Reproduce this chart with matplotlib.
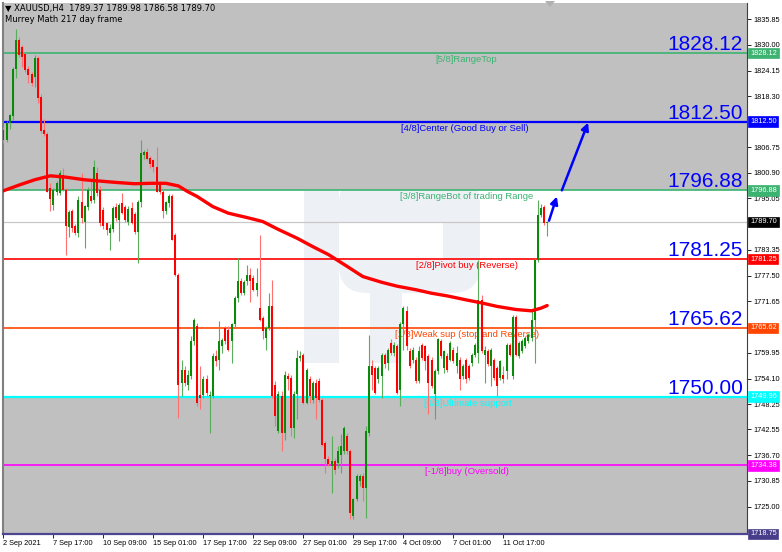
import matplotlib
matplotlib.use("Agg")
import matplotlib.pyplot as plt
import matplotlib.transforms as mtransforms
from matplotlib.patches import Rectangle, FancyBboxPatch, Polygon

plt.rcParams['font.family'] = ['Liberation Sans', 'DejaVu Sans']

W, H = 782, 552

# ---- H4 candles (bar 0 = 2 Sep 2021) ------------------------------------ #
opens = [
    1810.6, 1808.3, 1812.1, 1813.8, 1824.6, 1831.1, 1829.5, 1827.8, 1824.6, 1823.4,
    1822.7, 1826.9, 1818.2, 1810.6, 1809.6, 1797.4, 1793.6, 1796.5, 1796.2, 1800.5,
    1797.0, 1788.6, 1792.1, 1788.7, 1787.2, 1794.3, 1789.8, 1793.2, 1795.5, 1794.7,
    1800.8, 1797.0, 1792.4, 1789.4, 1787.3, 1788.0, 1793.2, 1790.2, 1794.0, 1793.0,
    1789.8, 1792.8, 1791.6, 1787.5, 1794.3, 1805.0, 1805.6, 1804.2, 1803.8, 1802.3,
    1798.7, 1796.6, 1792.1, 1794.0, 1795.5, 1786.7, 1777.7,
    1753.1, 1756.1, 1752.7, 1754.6, 1762.6, 1766.0, 1750.4, 1750.4, 1753.9, 1750.1,
    1750.1, 1759.2, 1758.4, 1761.4, 1765.6, 1765.2, 1762.6, 1766.4, 1772.4, 1776.2,
    1773.5, 1776.2, 1777.7, 1777.0, 1774.3, 1770.1, 1767.9, 1763.3, 1765.6, 1770.5,
    1752.7, 1742.1, 1750.1, 1741.7, 1754.6, 1754.2, 1742.9, 1750.5, 1758.8, 1759.5,
    1748.6, 1753.9, 1749.3, 1753.1, 1753.5, 1749.3, 1739.5, 1735.7, 1734.2, 1735.3,
    1734.9, 1736.8, 1737.6, 1741.0, 1737.6, 1722.8, 1726.6, 1730.8, 1731.9, 1729.3,
    1741.7,
    1756.9, 1756.5, 1753.9, 1754.6, 1759.5, 1757.6, 1762.2, 1759.9, 1761.4, 1751.6,
    1766.4, 1769.4, 1760.3, 1758.4, 1758.4, 1753.5, 1761.8, 1761.4, 1759.2, 1758.4,
    1750.5, 1755.8, 1762.6, 1756.5, 1759.2, 1758.4, 1760.7, 1756.9, 1758.4, 1754.6,
    1758.4, 1756.9, 1757.6, 1759.5, 1759.9, 1772.0, 1759.5, 1760.3, 1756.9, 1758.4,
    1756.5, 1754.2, 1755.0, 1755.8, 1761.8, 1754.6, 1768.2, 1759.2, 1760.3, 1761.4,
    1762.6, 1763.3, 1767.5, 1781.1, 1791.3, 1793.2, 1789.37,
]
highs = [
    1811.2, 1812.6, 1814.3, 1825.0, 1833.7, 1831.8, 1830.0, 1828.3, 1825.1, 1823.9,
    1827.6, 1827.4, 1818.8, 1813.1, 1810.2, 1798.5, 1797.5, 1799.0, 1801.5, 1802.0,
    1797.5, 1792.5, 1792.6, 1789.2, 1795.6, 1800.8, 1793.6, 1797.6, 1799.3, 1803.8,
    1802.3, 1797.8, 1793.0, 1789.8, 1789.2, 1793.3, 1794.0, 1794.0, 1796.2, 1793.6,
    1793.4, 1794.3, 1792.0, 1794.6, 1808.3, 1806.0, 1806.5, 1804.7, 1804.0, 1806.8,
    1799.0, 1797.3, 1794.5, 1796.0, 1796.0, 1787.2, 1778.0,
    1758.4, 1756.9, 1756.1, 1763.7, 1767.9, 1766.8, 1756.9, 1754.6, 1755.0, 1751.2,
    1759.9, 1760.7, 1767.1, 1763.3, 1766.0, 1766.0, 1766.8, 1772.8, 1781.5, 1777.0,
    1776.6, 1780.0, 1779.2, 1777.7, 1779.2, 1786.8, 1768.3, 1766.0, 1773.5, 1776.6,
    1753.5, 1751.2, 1751.2, 1755.8, 1755.4, 1755.0, 1751.2, 1760.7, 1760.3, 1760.0,
    1756.5, 1754.6, 1753.5, 1753.9, 1754.2, 1749.7, 1740.0, 1736.4, 1741.0, 1736.0,
    1738.7, 1741.4, 1743.3, 1741.8, 1738.0, 1727.0, 1732.3, 1732.3, 1732.7, 1743.3,
    1764.1,
    1758.4, 1757.0, 1757.0, 1760.0, 1760.0, 1761.0, 1763.0, 1762.5, 1762.0, 1767.0,
    1770.5, 1770.5, 1761.0, 1761.2, 1759.0, 1761.4, 1762.2, 1761.8, 1759.6, 1759.0,
    1756.2, 1763.4, 1763.0, 1760.7, 1759.8, 1762.6, 1761.2, 1761.4, 1759.0, 1757.3,
    1758.8, 1757.3, 1760.0, 1762.2, 1781.1, 1773.0, 1761.4, 1760.8, 1761.1, 1758.8,
    1757.0, 1758.4, 1756.9, 1762.2, 1762.2, 1768.6, 1768.6, 1762.6, 1763.0, 1763.7,
    1764.5, 1769.8, 1781.5, 1794.7, 1793.9, 1793.6, 1789.98,
]
lows = [
    1807.7, 1807.9, 1810.8, 1813.0, 1822.5, 1827.2, 1825.0, 1823.8, 1821.2, 1820.6,
    1820.5, 1816.7, 1809.9, 1809.3, 1796.5, 1792.1, 1792.5, 1795.8, 1795.8, 1796.8,
    1782.2, 1786.3, 1787.5, 1786.8, 1786.4, 1789.4, 1783.8, 1792.5, 1794.0, 1794.0,
    1795.5, 1788.7, 1788.2, 1786.8, 1783.4, 1787.5, 1790.0, 1785.3, 1791.5, 1789.6,
    1789.0, 1789.2, 1787.0, 1780.4, 1793.0, 1804.0, 1803.7, 1802.0, 1801.0, 1796.5,
    1796.0, 1790.5, 1791.5, 1793.0, 1785.5, 1777.5, 1745.2,
    1750.1, 1752.4, 1751.6, 1753.9, 1761.8, 1747.8, 1747.1, 1749.7, 1750.1, 1741.7,
    1749.7, 1756.9, 1756.1, 1760.0, 1762.0, 1760.3, 1757.6, 1765.6, 1771.6, 1773.1,
    1773.0, 1775.4, 1771.6, 1773.9, 1772.8, 1767.1, 1763.0, 1760.7, 1765.2, 1749.7,
    1743.3, 1741.7, 1737.6, 1740.2, 1751.6, 1741.0, 1740.6, 1744.8, 1758.0, 1748.2,
    1748.2, 1748.6, 1748.6, 1744.8, 1748.8, 1738.7, 1732.7, 1734.2, 1728.1, 1732.5,
    1733.8, 1732.7, 1737.0, 1737.0, 1722.1, 1722.1, 1726.2, 1729.6, 1726.2, 1722.5,
    1741.0,
    1751.6, 1750.5, 1753.0, 1749.7, 1756.5, 1756.1, 1759.5, 1759.2, 1750.5, 1747.8,
    1760.7, 1760.7, 1756.5, 1757.6, 1753.1, 1753.1, 1758.4, 1756.1, 1746.0, 1752.0,
    1744.8, 1755.2, 1758.8, 1755.4, 1755.6, 1758.0, 1757.6, 1755.4, 1751.6, 1754.0,
    1753.1, 1753.8, 1757.0, 1759.0, 1757.6, 1759.9, 1753.1, 1756.9, 1752.4, 1753.8,
    1750.1, 1753.8, 1753.1, 1754.0, 1759.2, 1753.9, 1759.2, 1758.8, 1759.9, 1761.0,
    1762.2, 1762.6, 1757.6, 1780.7, 1790.9, 1789.1, 1786.58,
]
closes = [
    1808.3, 1812.1, 1814.0, 1824.6, 1831.1, 1827.7, 1827.3, 1824.3, 1823.1, 1821.3,
    1826.9, 1817.8, 1810.3, 1809.6, 1796.6, 1795.0, 1797.0, 1798.5, 1800.8, 1797.0,
    1788.7, 1792.0, 1788.3, 1787.2, 1794.7, 1790.6, 1793.3, 1797.0, 1794.5, 1802.3,
    1796.2, 1789.4, 1788.7, 1787.9, 1788.3, 1792.8, 1790.6, 1793.6, 1791.7, 1790.2,
    1792.6, 1789.5, 1787.5, 1794.3, 1805.3, 1805.6, 1804.0, 1803.0, 1802.3, 1796.6,
    1796.6, 1792.1, 1794.3, 1795.5, 1785.6, 1777.7, 1752.7,
    1756.1, 1753.1, 1755.0, 1762.6, 1767.5, 1748.6, 1749.7, 1753.9, 1750.9, 1750.4,
    1759.2, 1758.0, 1762.6, 1762.9, 1762.6, 1760.7, 1766.4, 1772.4, 1776.2, 1773.5,
    1776.0, 1777.7, 1776.2, 1774.3, 1775.8, 1767.5, 1764.9, 1765.6, 1770.5, 1750.1,
    1745.5, 1750.5, 1741.7, 1755.0, 1753.9, 1742.9, 1750.5, 1758.8, 1759.2, 1748.6,
    1756.1, 1750.1, 1753.1, 1749.7, 1749.3, 1739.1, 1735.7, 1734.6, 1735.3, 1733.4,
    1737.6, 1738.7, 1742.9, 1737.6, 1723.6, 1726.6, 1731.9, 1731.9, 1729.3, 1742.1,
    1756.9,
    1755.0, 1750.9, 1756.5, 1759.5, 1757.3, 1760.7, 1759.9, 1761.8, 1750.9, 1766.4,
    1770.1, 1761.4, 1756.9, 1760.7, 1753.5, 1760.3, 1758.8, 1758.0, 1753.1, 1752.4,
    1755.8, 1763.0, 1759.2, 1760.3, 1756.1, 1762.2, 1758.0, 1759.9, 1753.9, 1756.9,
    1753.9, 1754.2, 1759.5, 1761.8, 1772.0, 1760.3, 1760.7, 1757.3, 1760.7, 1754.2,
    1752.4, 1758.0, 1753.9, 1761.8, 1759.5, 1768.2, 1759.5, 1762.2, 1762.6, 1763.3,
    1764.1, 1767.5, 1781.1, 1791.3, 1792.8, 1789.4, 1789.70,
]

# moving average (thick red line), sampled at these bars
ma_bars = [0, 5, 10, 15, 20, 26, 31, 36, 42, 47, 52, 56, 59, 62, 67, 72, 78, 83, 88,
           94, 99, 104, 110, 115, 121, 126, 132, 137, 142, 148, 153, 158, 164, 169,
           172, 174]
ma_vals = [1796.8, 1798.1, 1799.3, 1800.2, 1799.9, 1799.3, 1799.0, 1798.7, 1798.4,
           1798.5, 1798.5, 1797.9, 1796.6, 1795.5, 1793.2, 1791.7, 1790.7, 1789.8,
           1788.0, 1786.0, 1784.1, 1782.3, 1779.6, 1777.3, 1776.0, 1775.1, 1774.3,
           1773.5, 1772.9, 1772.0, 1771.3, 1770.5, 1769.8, 1769.5, 1770.1, 1770.7]

# Murrey Math levels
lvl_prices = [1828.12, 1812.50, 1796.88, 1781.25, 1765.62, 1749.96, 1734.38]
lvl_names = ["[5/8]RangeTop", "[4/8]Center (Good Buy or Sell)",
             "[3/8]RangeBot of trading Range", "[2/8]Pivot buy (Reverse)",
             "[1/8]Weak sup (stop and Reverse)", "[0/8]Ultimate support",
             "[-1/8]buy (Oversold)"]
lvl_colors = ["#3cb371", "#0000ff", "#3cb371", "#ff0000", "#ff4500", "#00ffff", "#ff00ff"]
lvl_label_px = [435, 401, 400, 416, 395, 424, 425]
big_labels = ["1828.12", "1812.50", "1796.88", "1781.25", "1765.62", "1750.00"]

last_price = 1789.70
y_ticks = [1835.85, 1830.00, 1824.15, 1818.30, 1806.75, 1800.90, 1795.05, 1783.35,
           1777.50, 1771.65, 1759.95, 1754.10, 1748.25, 1742.55, 1736.70, 1730.85,
           1725.00]
x_tick_bars = [0, 16, 32, 48, 64, 80, 96, 112, 128, 144, 160]
x_tick_labels = ["2 Sep 2021", "7 Sep 17:00", "10 Sep 09:00", "15 Sep 01:00",
                 "17 Sep 17:00", "22 Sep 09:00", "27 Sep 01:00", "29 Sep 17:00",
                 "4 Oct 09:00", "7 Oct 01:00", "11 Oct 17:00"]

# forecast arrows (bar position, price)
arrow_from = [(174.6, 1790.0), (178.7, 1796.9)]
arrow_to = [(177.1, 1795.5), (187.1, 1812.3)]

Y_LO, Y_HI = 1718.75, 1839.5

fig = plt.figure(figsize=(W / 100, H / 100), dpi=100)
fig.patch.set_facecolor("white")
ax = fig.add_axes([3 / W, (H - 534) / H, (747 - 3) / W, (534 - 3) / H])
ax.set_xlim(-0.13, 237.95)
ax.set_ylim(Y_LO, Y_HI)

# image-pixel transform for decorations
pix = mtransforms.Affine2D().scale(1 / W, -1 / H).translate(0, 1) + fig.transFigure

# gray zones
ax.axhspan(1796.88, Y_HI, color="#c0c0c0", zorder=0.5, lw=0)
ax.axhspan(Y_LO, 1749.96, color="#c0c0c0", zorder=0.5, lw=0)

# faint watermark logo
wm = "#edf0f5"
ax.add_patch(Rectangle((304, 190), 35, 173, transform=pix, fc=wm, ec="none", zorder=0.2))
ax.add_patch(FancyBboxPatch((339, 175), 141, 118, boxstyle="round,pad=0,rounding_size=28",
                            transform=pix, fc=wm, ec="none", zorder=0.2))
ax.add_patch(Rectangle((339, 223), 104, 37, transform=pix, fc="white", ec="none", zorder=0.25))
ax.add_patch(Rectangle((370, 290), 32, 73, transform=pix, fc=wm, ec="none", zorder=0.2))

# level lines
for p, c in zip(lvl_prices, lvl_colors):
    ax.axhline(p, color=c, lw=1.6 if c in ("#0000ff", "#00ffff") else 1.2, zorder=2)
ax.axhline(last_price, color="#c8c8c8", lw=0.9, zorder=1.9)

# level names
for p, name, c, px in zip(lvl_prices, lvl_names, lvl_colors, lvl_label_px):
    xi = (px - 3.4) / 3.125
    ax.annotate(name, (xi, p), xytext=(0, -2), textcoords="offset pixels",
                ha="left", va="top", fontsize=6.8, color=c, zorder=2.5)

# candles
for i in range(len(opens)):
    o, h, l, c = opens[i], highs[i], lows[i], closes[i]
    up = c >= o
    body = "#098a09" if up else "#ff0000"
    wick = "#5aad5a" if up else "#ff7070"
    ax.vlines(i, l, h, color=wick, lw=0.8, zorder=3)
    ax.add_patch(Rectangle((i - 0.33, min(o, c)), 0.66, max(abs(c - o), 0.25),
                           fc=body, ec="none", zorder=3.1))

# moving average
ax.plot(ma_bars, ma_vals, color="#ff0000", lw=2.4, solid_capstyle="round", zorder=4)

# forecast arrows
for (x0, y0), (x1, y1) in zip(arrow_from, arrow_to):
    ax.annotate("", xy=(x1, y1), xytext=(x0, y0),
                arrowprops=dict(arrowstyle="-|>", color="#0000ff", lw=1.8,
                                mutation_scale=11, shrinkA=0, shrinkB=0), zorder=5)

# big blue level prices
bt = mtransforms.blended_transform_factory(ax.transAxes, ax.transData)
for p, s in zip(lvl_prices[:6], big_labels):
    ax.annotate(s, (0.9946, p), xycoords=bt, xytext=(0, 3), textcoords="offset pixels",
                ha="right", va="baseline", fontsize=15, color="#0000ff", zorder=5)

# axes styling
ax.spines["top"].set_visible(False)
ax.spines["left"].set_color("#808080")
ax.spines["left"].set_linewidth(1.5)
ax.spines["right"].set_color("#404040")
ax.spines["right"].set_linewidth(0.8)
ax.spines["bottom"].set_color("#4b4690")
ax.spines["bottom"].set_linewidth(1.6)

ax.yaxis.tick_right()
ax.set_yticks(y_ticks)
ax.set_yticklabels([f"{v:.2f}" for v in y_ticks])
ax.tick_params(axis="y", labelsize=5.3, length=3, width=0.6, pad=1.5, colors="black")
ax.set_xticks(x_tick_bars)
ax.set_xticklabels(x_tick_labels)
ax.tick_params(axis="x", labelsize=5.3, length=3, width=0.6, pad=1.5)
for t in ax.get_xticklabels():
    t.set_ha("left")

# coloured price boxes on the right scale
box_prices = [1828.12, 1812.50, 1796.88, 1789.70, 1781.25, 1765.62, 1749.96, 1734.38, 1718.75]
box_colors = ["#3cb371", "#0000ff", "#3cb371", "#000000", "#ff0000", "#ff4500", "#00ffff",
              "#ff00ff", "#483d8b"]
for p, c in zip(box_prices, box_colors):
    ax.text(1.004, p, f"{p:.2f}", transform=bt, ha="left", va="center", fontsize=5.3,
            color="white", zorder=6, clip_on=False,
            bbox=dict(boxstyle="square,pad=0.25", fc=c, ec=c, lw=0.5))

# header
fig.text(5 / W, 1 - 9 / H, "\u25bc XAUUSD,H4  1789.37 1789.98 1786.58 1789.70",
         fontsize=6, va="center", ha="left", family=["DejaVu Sans"])
fig.text(5 / W, 1 - 19 / H, "Murrey Math 217 day frame", fontsize=6, va="center",
         ha="left", family=["DejaVu Sans"])

# chart shift marker
ax.add_patch(Polygon([(545, 1), (555, 1), (550, 7)], closed=True, transform=pix,
                     fc="#b0b0b0", ec="none", zorder=6, clip_on=False))

fig.savefig("out.png", dpi=100)
